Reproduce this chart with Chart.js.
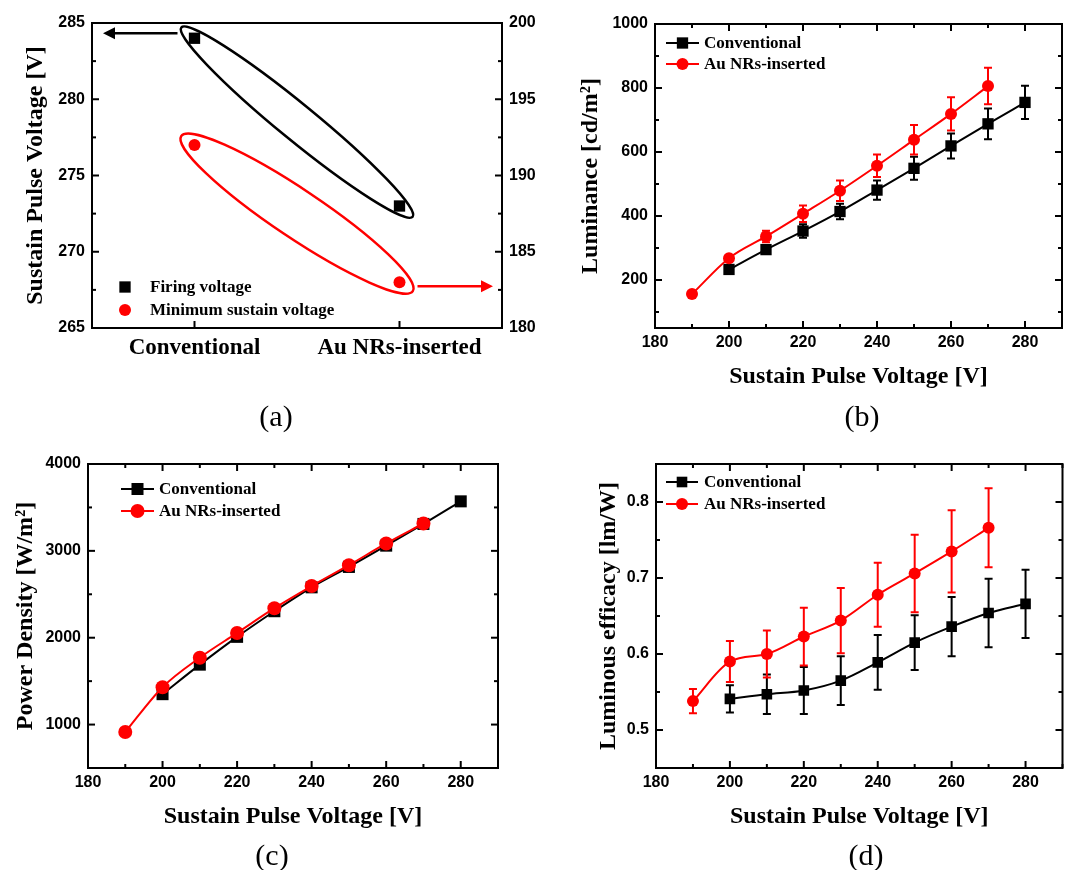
<!DOCTYPE html>
<html>
<head>
<meta charset="utf-8">
<script src="https://cdn.jsdelivr.net/npm/chart.js@4.4.0/dist/chart.umd.min.js"></script>
<style>
  body { margin: 0; background: #fff; width: 1065px; height: 870px; overflow: hidden; position: relative; }
  canvas { position: absolute; }
  .cap { position: absolute; width: 80px; text-align: center; font-family: 'Liberation Serif'; font-size: 30px; line-height: 30px; }
</style>
</head>
<body>
<canvas id="chartA" width="560" height="440" style="left:0;top:0"></canvas>
<canvas id="chartB" width="530" height="440" style="left:540px;top:0"></canvas>
<canvas id="chartC" width="540" height="430" style="left:0;top:440px"></canvas>
<canvas id="chartD" width="530" height="430" style="left:540px;top:440px"></canvas>
<div class="cap" style="left:236px;top:401px">(a)</div>
<div class="cap" style="left:822px;top:401px">(b)</div>
<div class="cap" style="left:232px;top:840px">(c)</div>
<div class="cap" style="left:826px;top:840px">(d)</div>
<script>
// panel (a)
const sampleLabels = ['Conventional', 'Au NRs-inserted'];
const firingVoltage = [284, 273];
const minSustainVoltage = [192, 183];
const aLeftTicks = [265, 270, 275, 280, 285];
const aRightTicks = [180, 185, 190, 195, 200];

// panels (b)-(d), x values
const convVoltage = [200, 210, 220, 230, 240, 250, 260, 270, 280];
const auVoltage = [190, 200, 210, 220, 230, 240, 250, 260, 270];
const voltageTicks = [180, 200, 220, 240, 260, 280];

// (b) luminance
const convLuminance = [233, 295, 353, 414, 481, 549, 619, 688, 755];
const convLuminanceErr = [12, 14, 21, 24, 30, 36, 39, 48, 52];
const auLuminance = [156, 268, 336, 407, 479, 557, 638, 719, 806];
const auLuminanceErr = [8, 10, 18, 26, 32, 35, 46, 52, 57];
const luminanceTicks = [200, 400, 600, 800, 1000];

// (c) power density
const convPower = [1350, 1690, 2010, 2305, 2580, 2815, 3060, 3310, 3570];
const auPower = [915, 1430, 1770, 2055, 2340, 2595, 2835, 3085, 3315];
const powerTicks = [1000, 2000, 3000, 4000];

// (d) luminous efficacy
const convEfficacy = [0.541, 0.547, 0.552, 0.565, 0.589, 0.615, 0.636, 0.654, 0.666];
const convEfficacyErr = [0.018, 0.026, 0.031, 0.032, 0.036, 0.036, 0.039, 0.045, 0.045];
const auEfficacy = [0.538, 0.590, 0.600, 0.623, 0.644, 0.678, 0.706, 0.735, 0.766];
const auEfficacyErr = [0.016, 0.027, 0.031, 0.038, 0.043, 0.042, 0.051, 0.054, 0.052];
const efficacyTicks = [0.5, 0.6, 0.7, 0.8];

Chart.defaults.color = '#000';
const RED = '#ff0000';
const tickFont = { family: 'Liberation Sans', size: 16, weight: 'bold' };
const titleFont = { family: 'Liberation Serif', size: 24, weight: 'bold' };
const legendFont = 'bold 17px "Liberation Serif"';

function drawMarker(ctx, style, x, y, r, color) {
  ctx.fillStyle = color;
  ctx.beginPath();
  if (style === 'rect') {
    const s = r * Math.SQRT1_2;
    ctx.rect(x - s, y - s, 2 * s, 2 * s);
  } else {
    ctx.arc(x, y, r, 0, Math.PI * 2);
  }
  ctx.fill();
}

// box round the plot with inward major / minor ticks
const framePlugin = {
  id: 'frame',
  afterDraw(chart, args, opts) {
    const { ctx, chartArea: { left, top, right, bottom } } = chart;
    ctx.save();
    ctx.strokeStyle = '#000';
    ctx.lineWidth = 2;
    ctx.strokeRect(left, top, right - left, bottom - top);
    Object.keys(opts.sides).forEach(id => {
      const scale = chart.scales[id];
      scale.ticks.forEach(t => {
        const p = scale.getPixelForValue(t.value);
        const len = t.label === '' ? 4 : 7;
        opts.sides[id].forEach(side => {
          ctx.beginPath();
          if (side === 'bottom') { ctx.moveTo(p, bottom); ctx.lineTo(p, bottom - len); }
          if (side === 'top') { ctx.moveTo(p, top); ctx.lineTo(p, top + len); }
          if (side === 'left') { ctx.moveTo(left, p); ctx.lineTo(left + len, p); }
          if (side === 'right') { ctx.moveTo(right, p); ctx.lineTo(right - len, p); }
          ctx.stroke();
        });
      });
    });
    ctx.restore();
  }
};

// vertical error bars from the dataset's errors array
const errorBarPlugin = {
  id: 'errorBars',
  beforeDatasetsDraw(chart) {
    const ctx = chart.ctx;
    ctx.save();
    chart.data.datasets.forEach((ds, i) => {
      if (!ds.errors) return;
      const meta = chart.getDatasetMeta(i);
      const ys = chart.scales[meta.yAxisID];
      ctx.strokeStyle = ds.borderColor;
      ctx.lineWidth = 2;
      meta.data.forEach((pt, j) => {
        const v = ds.data[j].y, e = ds.errors[j];
        const y1 = ys.getPixelForValue(v + e), y2 = ys.getPixelForValue(v - e);
        ctx.beginPath();
        ctx.moveTo(pt.x, y1); ctx.lineTo(pt.x, y2);
        ctx.moveTo(pt.x - 4, y1); ctx.lineTo(pt.x + 4, y1);
        ctx.moveTo(pt.x - 4, y2); ctx.lineTo(pt.x + 4, y2);
        ctx.stroke();
      });
    });
    ctx.restore();
  }
};

// legend placed inside the plot area
const inLegendPlugin = {
  id: 'inLegend',
  afterDraw(chart, args, opts) {
    const { ctx, chartArea } = chart;
    const x0 = chartArea.left + opts.x;
    const y0 = opts.fromBottom ? chartArea.bottom - opts.y : chartArea.top + opts.y;
    ctx.save();
    chart.data.datasets.forEach((ds, i) => {
      const y = y0 + i * opts.gap;
      let mx = x0;
      if (opts.sample) {
        ctx.strokeStyle = ds.borderColor;
        ctx.lineWidth = 2;
        ctx.beginPath();
        ctx.moveTo(x0, y); ctx.lineTo(x0 + opts.sample, y);
        ctx.stroke();
        mx = x0 + opts.sample / 2;
      }
      drawMarker(ctx, ds.pointStyle, mx, y, ds.pointRadius, ds.backgroundColor);
      ctx.fillStyle = '#000';
      ctx.font = legendFont;
      ctx.textBaseline = 'middle';
      ctx.fillText(ds.label, chartArea.left + opts.textX, y + 1);
    });
    ctx.restore();
  }
};

// ovals and arrows of panel (a)
const ovalPlugin = {
  id: 'ovals',
  beforeDatasetsDraw(chart, args, opts) {
    const { ctx, chartArea } = chart;
    ctx.save();
    ctx.lineWidth = 2.5;
    opts.ovals.forEach(o => {
      const pts = chart.getDatasetMeta(o.dataset).data;
      const p0 = pts[0], p1 = pts[1];
      const ang = Math.atan2(p1.y - p0.y, p1.x - p0.x);
      const half = Math.hypot(p1.x - p0.x, p1.y - p0.y) / 2;
      ctx.strokeStyle = o.color;
      ctx.beginPath();
      ctx.ellipse((p0.x + p1.x) / 2, (p0.y + p1.y) / 2, half + o.pad, o.minor, ang, 0, Math.PI * 2);
      ctx.stroke();
    });
    opts.arrows.forEach(a => {
      const p = chart.getDatasetMeta(a.dataset).data[a.index];
      const y = p.y + a.dy;
      const xs = p.x + a.gap * a.dir;
      const xe = a.dir < 0 ? chartArea.left + a.edge : chartArea.right - a.edge;
      ctx.strokeStyle = a.color;
      ctx.fillStyle = a.color;
      ctx.beginPath();
      ctx.moveTo(xs, y); ctx.lineTo(xe - a.dir * 8, y);
      ctx.stroke();
      ctx.beginPath();
      ctx.moveTo(xe, y);
      ctx.lineTo(xe - a.dir * 12, y - 6);
      ctx.lineTo(xe - a.dir * 12, y + 6);
      ctx.closePath();
      ctx.fill();
    });
    ctx.restore();
  }
};

function tickList(min, max, step) {
  const out = [];
  for (let v = min; v <= max + step / 1000; v += step) out.push({ value: Math.round(v * 10000) / 10000 });
  return out;
}

function labelIf(majors) {
  return v => majors.some(m => Math.abs(m - v) < 1e-9) ? String(v) : '';
}

function xyData(xs, ys) {
  return xs.map((x, i) => ({ x: x, y: ys[i] }));
}

function series(label, xs, ys, color, style, r, errs, order) {
  return {
    label: label, data: xyData(xs, ys), errors: errs, order: order,
    borderColor: color, backgroundColor: color, borderWidth: 2,
    pointStyle: style, pointRadius: r, pointHoverRadius: r, pointBorderWidth: 0,
    cubicInterpolationMode: 'monotone'
  };
}

function voltageAxis(height, titlePad) {
  return {
    type: 'linear', min: 180, max: 290,
    afterBuildTicks: s => { s.ticks = tickList(180, 290, 10); },
    afterFit: s => { s.height = height; },
    ticks: { autoSkip: false, maxRotation: 0, padding: 5, font: tickFont, callback: labelIf(voltageTicks) },
    grid: { display: false, drawTicks: false },
    border: { display: false },
    title: { display: true, text: 'Sustain Pulse Voltage [V]', font: titleFont, padding: { top: 0, bottom: titlePad } }
  };
}

function valueAxis(min, max, step, majors, first, width, title, titlePad) {
  return {
    type: 'linear', min: min, max: max,
    afterBuildTicks: s => { s.ticks = tickList(first, max, step); },
    afterFit: s => { s.width = width; },
    ticks: { autoSkip: false, padding: 7, font: tickFont, callback: labelIf(majors) },
    grid: { display: false, drawTicks: false },
    border: { display: false },
    title: { display: true, text: title, font: titleFont, padding: { top: titlePad, bottom: 0 } }
  };
}

const common = {
  responsive: false, animation: false, events: [],
};

// (a)
new Chart(document.getElementById('chartA'), {
  type: 'line',
  data: {
    labels: sampleLabels,
    datasets: [
      { label: 'Firing voltage', data: firingVoltage, yAxisID: 'y', showLine: false,
        borderColor: '#000', backgroundColor: '#000', pointStyle: 'rect', pointRadius: 8, pointBorderWidth: 0 },
      { label: 'Minimum sustain voltage', data: minSustainVoltage, yAxisID: 'y1', showLine: false,
        borderColor: RED, backgroundColor: RED, pointStyle: 'circle', pointRadius: 6, pointBorderWidth: 0 }
    ]
  },
  options: Object.assign({}, common, {
    layout: { padding: { top: 23, left: 0, right: 0, bottom: 0 } },
    scales: {
      x: {
        type: 'category', offset: true,
        afterFit: s => { s.height = 112; },
        ticks: { padding: 6, font: { family: 'Liberation Serif', size: 23, weight: 'bold' } },
        grid: { display: false, drawTicks: false }, border: { display: false }
      },
      y: valueAxis(265, 285, 2.5, aLeftTicks, 265, 92, 'Sustain Pulse Voltage [V]', 21),
      y1: Object.assign(valueAxis(180, 200, 2.5, aRightTicks, 180, 58, '', 0), {
        position: 'right', title: { display: false }
      })
    },
    plugins: {
      legend: { display: false }, tooltip: { enabled: false },
      frame: { sides: { x: ['bottom'], y: ['left'], y1: ['right'] } },
      inLegend: { x: 33, y: 41, fromBottom: true, gap: 23, sample: 0, textX: 58 },
      ovals: {
        ovals: [
          { dataset: 0, color: '#000', pad: 17, minor: 18 },
          { dataset: 1, color: RED, pad: 16, minor: 24 }
        ],
        arrows: [
          { dataset: 0, index: 0, dir: -1, dy: -5, gap: 17, edge: 11, color: '#000' },
          { dataset: 1, index: 1, dir: 1, dy: 4, gap: 18, edge: 9, color: RED }
        ]
      }
    }
  }),
  plugins: [ovalPlugin, framePlugin, inLegendPlugin]
});

// (b)
new Chart(document.getElementById('chartB'), {
  type: 'line',
  data: {
    datasets: [
      series('Conventional', convVoltage, convLuminance, '#000', 'rect', 8, convLuminanceErr, 1),
      series('Au NRs-inserted', auVoltage, auLuminance, RED, 'circle', 6, auLuminanceErr, 0)
    ]
  },
  options: Object.assign({}, common, {
    layout: { padding: { top: 24, left: 0, right: 3, bottom: 0 } },
    scales: {
      x: voltageAxis(112, 49),
      y: valueAxis(50, 1000, 100, luminanceTicks, 100, 115, 'Luminance [cd/m\u00B2]', 36)
    },
    plugins: {
      legend: { display: false }, tooltip: { enabled: false },
      frame: { sides: { x: ['bottom', 'top'], y: ['left', 'right'] } },
      inLegend: { x: 11, y: 19, gap: 21, sample: 33, textX: 49 }
    }
  }),
  plugins: [errorBarPlugin, framePlugin, inLegendPlugin]
});

// (c)
new Chart(document.getElementById('chartC'), {
  type: 'line',
  data: {
    datasets: [
      series('Conventional', convVoltage, convPower, '#000', 'rect', 8.5, null, 1),
      series('Au NRs-inserted', auVoltage, auPower, RED, 'circle', 7, null, 0)
    ]
  },
  options: Object.assign({}, common, {
    layout: { padding: { top: 24, left: 0, right: 42, bottom: 0 } },
    scales: {
      x: voltageAxis(102, 39),
      y: valueAxis(500, 4000, 500, powerTicks, 500, 88, 'Power Density [W/m\u00B2]', 11)
    },
    plugins: {
      legend: { display: false }, tooltip: { enabled: false },
      frame: { sides: { x: ['bottom', 'top'], y: ['left', 'right'] } },
      inLegend: { x: 33, y: 25, gap: 22, sample: 33, textX: 71 }
    }
  }),
  plugins: [framePlugin, inLegendPlugin]
});

// (d)
new Chart(document.getElementById('chartD'), {
  type: 'line',
  data: {
    datasets: [
      series('Conventional', convVoltage, convEfficacy, '#000', 'rect', 7.5, convEfficacyErr, 1),
      series('Au NRs-inserted', auVoltage, auEfficacy, RED, 'circle', 6, auEfficacyErr, 0)
    ]
  },
  options: Object.assign({}, common, {
    layout: { padding: { top: 24, left: 0, right: 7, bottom: 0 } },
    scales: {
      x: voltageAxis(102, 39),
      y: valueAxis(0.45, 0.85, 0.05, efficacyTicks, 0.5, 116, 'Luminous efficacy [lm/W]', 54)
    },
    plugins: {
      legend: { display: false }, tooltip: { enabled: false },
      frame: { sides: { x: ['bottom', 'top'], y: ['left', 'right'] } },
      inLegend: { x: 10, y: 18, gap: 22, sample: 32, textX: 48 }
    }
  }),
  plugins: [errorBarPlugin, framePlugin, inLegendPlugin]
});
</script>
</body>
</html>
